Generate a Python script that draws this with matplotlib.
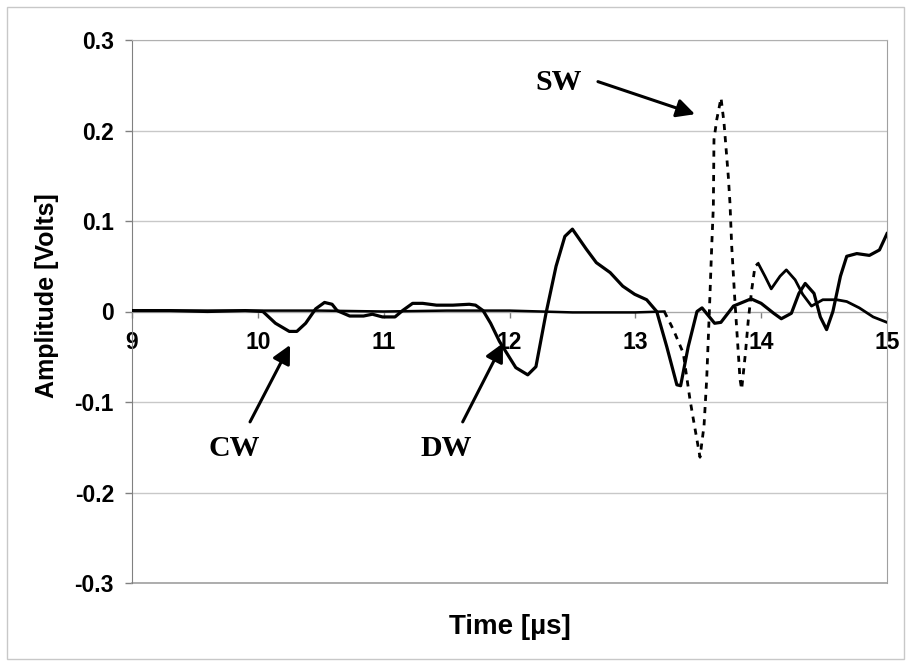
import matplotlib
matplotlib.use("Agg")
import matplotlib.pyplot as plt
from matplotlib.patches import Rectangle

# ---------------- data ----------------
# Solid trace (contains CW and DW arrivals)
t_solid = [9.0, 9.3, 9.6, 9.9, 10.04, 10.14, 10.25, 10.31, 10.38, 10.46, 10.53,
           10.59, 10.63, 10.73, 10.84, 10.91, 10.99, 11.09, 11.15, 11.23, 11.31,
           11.42, 11.55, 11.68, 11.73, 11.79, 11.85, 11.92, 12.05, 12.145, 12.21,
           12.29, 12.37, 12.44, 12.50, 12.61, 12.69, 12.80, 12.90, 12.995, 13.09,
           13.17, 13.25, 13.33, 13.36, 13.42, 13.49, 13.53, 13.63, 13.68, 13.78,
           13.92, 14.00, 14.10, 14.16, 14.24, 14.30, 14.35, 14.42, 14.47, 14.52,
           14.57, 14.63, 14.68, 14.76, 14.86, 14.94, 15.0]
a_solid = [0.001, 0.001, 0.0, 0.001, 0.0, -0.013, -0.022, -0.022, -0.013, 0.003, 0.010,
           0.008, 0.001, -0.005, -0.005, -0.003, -0.006, -0.006, 0.001, 0.009, 0.009,
           0.007, 0.007, 0.008, 0.007, 0.001, -0.013, -0.033, -0.062, -0.070, -0.061,
           -0.002, 0.050, 0.083, 0.091, 0.069, 0.054, 0.043, 0.028, 0.019, 0.013,
           0.0, -0.039, -0.081, -0.082, -0.039, 0.0, 0.004, -0.013, -0.012, 0.006,
           0.014, 0.009, -0.002, -0.008, -0.002, 0.020, 0.031, 0.020, -0.006, -0.020,
           0.0, 0.039, 0.061, 0.064, 0.062, 0.068, 0.086]

# Second trace (contains SW arrival)
t_sw = [9.0, 9.5, 10.0, 10.5, 11.0, 11.5, 12.0, 12.5, 13.0, 13.23,
        13.302, 13.381, 13.434, 13.461, 13.514, 13.546, 13.567, 13.588, 13.607, 13.620,
        13.625, 13.647, 13.681, 13.705, 13.739, 13.752, 13.766, 13.792, 13.832, 13.845,
        13.875, 13.898, 13.925, 13.951, 13.977,
        14.03, 14.08, 14.15, 14.20, 14.27, 14.33, 14.40, 14.49, 14.60, 14.68, 14.78, 14.89, 15.0]
a_sw = [0.001, 0.001, 0.001, 0.001, 0.0, 0.001, 0.001, -0.001, -0.001, 0.0,
        -0.020, -0.046, -0.097, -0.119, -0.161, -0.126, -0.075, -0.001, 0.072, 0.116,
        0.190, 0.212, 0.236, 0.208, 0.149, 0.120, 0.072, 0.010, -0.075, -0.086,
        -0.046, -0.009, 0.024, 0.050, 0.053,
        0.039, 0.025, 0.039, 0.046, 0.035, 0.019, 0.006, 0.013, 0.013, 0.011, 0.004, -0.006, -0.012]
sw_dash_start, sw_dash_end = 13.23, 13.977

x_ticks = [9, 10, 11, 12, 13, 14, 15]
x_labels = ["9", "10", "11", "12", "13", "14", "15"]
y_ticks = [-0.3, -0.2, -0.1, 0.0, 0.1, 0.2, 0.3]
y_labels = ["-0.3", "-0.2", "-0.1", "0", "0.1", "0.2", "0.3"]

# annotations: (label, text_xy, arrow_tail, arrow_head)
annotations = [
    ("CW", (9.816, -0.151), (9.938, -0.122), (10.256, -0.037)),
    ("DW", (11.50, -0.151), (11.628, -0.122), (11.948, -0.035)),
    ("SW", (12.393, 0.253), (12.703, 0.254), (13.474, 0.218)),
]

# ---------------- plot ----------------
plt.rcParams['font.family'] = ['Liberation Sans', 'DejaVu Sans']
plt.rcParams['font.weight'] = 'bold'

W, H = 909, 664
fig = plt.figure(figsize=(W / 100, H / 100), dpi=100)
fig.patch.set_facecolor('white')
fig.patches.append(Rectangle((7 / W, 5 / H), 897 / W, 652 / H, transform=fig.transFigure,
                             fill=False, edgecolor='#c8c8c8', lw=1.0))

ax = fig.add_axes([132 / W, 1 - 583 / H, 755 / W, 543 / H])
ax.set_xlim(9, 15)
ax.set_ylim(-0.3, 0.3)

ax.set_yticks(y_ticks)
ax.set_yticklabels(y_labels)
ax.set_xticks(x_ticks)
ax.set_xticklabels(x_labels)
ax.yaxis.grid(True, color='#c8c8c8', lw=1.0)
ax.set_axisbelow(True)

ax.spines['bottom'].set_position(('data', 0))
ax.spines['bottom'].set_color('#a8a8a8')
ax.spines['left'].set_color('#808080')
ax.spines['top'].set_color('#b0b0b0')
ax.spines['right'].set_color('#a0a0a0')
ax.axhline(-0.3, color='#a0a0a0', lw=1.2, clip_on=False)

ax.tick_params(axis='y', length=5, width=1, color='#808080', pad=8, labelsize=16.5)
ax.tick_params(axis='x', length=4, width=1, color='#808080', pad=10, labelsize=16.5)

# traces
ax.plot(t_solid, a_solid, color='black', lw=2.3, solid_joinstyle='round', zorder=3)

i0 = t_sw.index(sw_dash_start)
i1 = t_sw.index(sw_dash_end)
ax.plot(t_sw[:i0 + 1], a_sw[:i0 + 1], color='black', lw=1.8, zorder=3)
ax.plot(t_sw[i0:i1 + 1], a_sw[i0:i1 + 1], color='black', lw=2.0,
        linestyle=(0, (2.2, 2.2)), zorder=3)
ax.plot(t_sw[i1:], a_sw[i1:], color='black', lw=2.0, solid_joinstyle='round', zorder=3)

for label, txy, tail, head in annotations:
    ax.text(txy[0], txy[1], label, ha='center', va='center', fontsize=21.5,
            fontweight='bold', family=['Liberation Serif', 'DejaVu Serif'])
    ax.annotate('', xy=head, xytext=tail,
                arrowprops=dict(arrowstyle='-|>,head_length=0.55,head_width=0.28',
                                mutation_scale=20, lw=2.2, color='black',
                                shrinkA=0, shrinkB=0))

fig.text(510 / W, 1 - 627 / H, 'Time [µs]', ha='center', va='center',
         fontsize=20, fontweight='bold')
fig.text(47 / W, 1 - 296 / H, 'Amplitude [Volts]', ha='center', va='center',
         rotation=90, fontsize=18, fontweight='bold')

fig.savefig('out.png', dpi=100)
